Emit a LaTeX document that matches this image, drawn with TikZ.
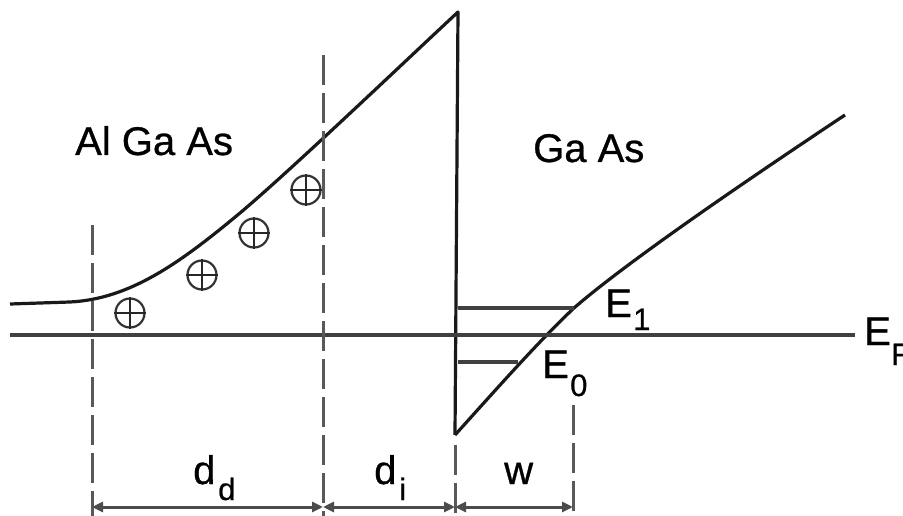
\documentclass[tikz,border=0pt]{standalone}
\usepackage{fontspec}
\setmainfont{Liberation Sans}[FakeBold=0.7]
\newfontfamily\labfont{Liberation Sans}[FakeBold=0.7]
\usetikzlibrary{arrows.meta}
\begin{document}
\begin{tikzpicture}[x=1pt,y=-1pt,
  band/.style={line width=3.2pt, black!90},
  lvl/.style={line width=3.4pt, black!75},
  dsh/.style={line width=3pt, black!65, dash pattern=on 30pt off 8pt},
  dim/.style={line width=3pt, black!70, {Triangle[length=11pt,width=10pt]}-{Triangle[length=11pt,width=10pt]}},
  lab/.style={inner sep=0pt, anchor=base west, font=\labfont\fontsize{40}{40}\selectfont},
  sub/.style={inner sep=0pt, anchor=base west, font=\labfont\fontsize{31}{31}\selectfont},
  cplus/.style={circle, draw, black!80, line width=2.2pt, minimum size=29pt, inner sep=0pt}]
\useasboundingbox (0,0) rectangle (903,516);
% key points
\coordinate (flat) at (10,304);
\coordinate (bend) at (70,302);
\coordinate (mid) at (240,213);
\coordinate (apex) at (458,12);
\coordinate (wb) at (455,435);
\coordinate (gk) at (574,308);
\coordinate (gtop) at (845,115);
\coordinate (efL) at (10,335);
\coordinate (efR) at (855,335);
\coordinate (e1L) at (458,308);
\coordinate (e1R) at (574,308);
\coordinate (e0L) at (458,362);
\coordinate (e0R) at (518,362);
% dashed verticals
\coordinate (v1t) at (92,225);  \coordinate (v1b) at (92,516);
\coordinate (v2t) at (323,55);  \coordinate (v2b) at (323,516);
\coordinate (v3t) at (455,445); \coordinate (v3b) at (455,516);
\coordinate (v4t) at (573,405); \coordinate (v4b) at (573,516);
\coordinate (m1) at (92,507);
\coordinate (m2) at (323,507);
\coordinate (m3) at (455,507);
\coordinate (m4) at (573,507);
% AlGaAs band
\draw[band, line join=round] (flat) -- (bend) .. controls (130,299) and (180,263) .. (mid)
      .. controls (290,171) and (400,66) .. (apex) -- (wb);
% GaAs band
\draw[band] (wb) .. controls (500,385) and (540,340) .. (gk)
      .. controls (620,268) and (720,198) .. (gtop);
% levels
\draw[lvl] (efL) -- (efR);
\draw[lvl] (e1L) -- (e1R);
\draw[lvl] (e0L) -- (e0R);
% dashed
\draw[dsh] (v1t) -- (v1b);
\draw[dsh] (v2t) -- (v2b);
\draw[dsh] (v3t) -- (v3b);
\draw[dsh] (v4t) -- (v4b);
% dimensions
\draw[dim] (m1) -- (m2);
\draw[dim] (m2) -- (m3);
\draw[dim] (m3) -- (m4);
% donors
\foreach \n/\x/\y in {p1/130/313, p2/202/275, p3/254/233, p4/306/190}{
  \node[cplus] (\n) at (\x,\y) {};
  \draw[line width=2.2pt, black!85] (\n.north) -- (\n.south) (\n.west) -- (\n.east);
}
% labels
\node[lab] (algaas) at (75,155) {Al Ga As};
\node[lab] (gaas) at (533,162) {Ga As};
\node[lab] (e1) at (605,317) {E};
\node[sub] (e1s) at (633,330) {1};
\node[lab] (e0) at (542,378) {E};
\node[sub] (e0s) at (570,396) {0};
\node[lab] (ef) at (864,345) {E};
\node[sub] (efs) at (891,365) {F};
\node[lab] (dd) at (193,484) {d};
\node[sub] (dds) at (218,500) {d};
\node[lab] (di) at (374,484) {d};
\node[sub] (dis) at (399,500) {i};
\node[lab] (w) at (504,484) {w};
\end{tikzpicture}
\end{document}
